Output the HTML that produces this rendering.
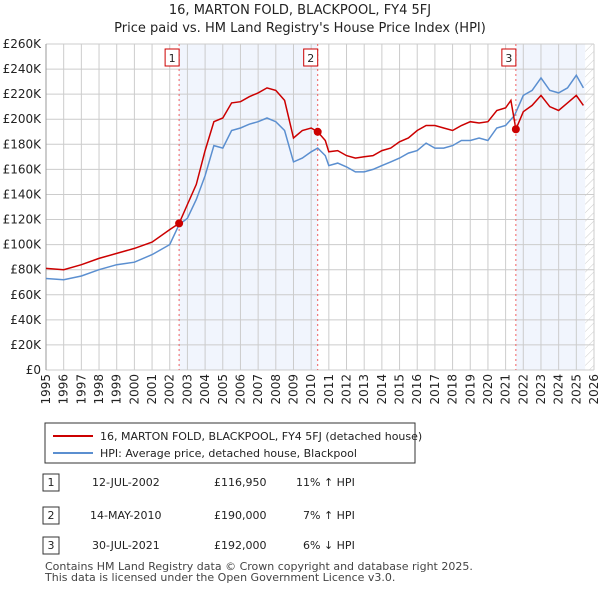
<!DOCTYPE html>
<html><head><meta charset="utf-8"><style>
body{margin:0;background:#fff;font-family:"Liberation Sans","DejaVu Sans",sans-serif;}
svg text{font-family:"DejaVu Sans","Liberation Sans",sans-serif;}
</style></head><body>
<svg id="c" width="600" height="590" xmlns="http://www.w3.org/2000/svg">
<defs><pattern id="h" width="6" height="6" patternUnits="userSpaceOnUse" patternTransform="rotate(45)"><line x1="0" y1="0" x2="0" y2="6" stroke="#ccc" stroke-width="1"/></pattern></defs>
<text x="300" y="14" text-anchor="middle" font-size="13" fill="#222">16, MARTON FOLD, BLACKPOOL, FY4 5FJ</text>
<text x="300" y="32" text-anchor="middle" font-size="13" fill="#222">Price paid vs. HM Land Registry's House Price Index (HPI)</text>
<g id="plot"></g>
<g>
<rect x="45" y="423" width="370" height="40" fill="#fff" stroke="#333" stroke-width="1"/>
<line x1="53" y1="436" x2="93" y2="436" stroke="#cc0000" stroke-width="2"/>
<text x="100" y="440" font-size="11" fill="#222">16, MARTON FOLD, BLACKPOOL, FY4 5FJ (detached house)</text>
<line x1="53" y1="453" x2="93" y2="453" stroke="#5b8fd0" stroke-width="2"/>
<text x="100" y="457" font-size="11" fill="#222">HPI: Average price, detached house, Blackpool</text>
</g>
<g font-size="11" fill="#222">
<rect x="43" y="474" width="16" height="17" fill="#fff" stroke="#333"/><text x="51" y="486" text-anchor="middle">1</text>
<text x="92" y="486">12-JUL-2002</text><text x="214" y="486">£116,950</text><text x="296" y="486">11% ↑ HPI</text>
<rect x="43" y="507" width="16" height="17" fill="#fff" stroke="#333"/><text x="51" y="519" text-anchor="middle">2</text>
<text x="90" y="519">14-MAY-2010</text><text x="214" y="519">£190,000</text><text x="303" y="519">7% ↑ HPI</text>
<rect x="43" y="537" width="16" height="17" fill="#fff" stroke="#333"/><text x="51" y="549" text-anchor="middle">3</text>
<text x="92" y="549">30-JUL-2021</text><text x="214" y="549">£192,000</text><text x="303" y="549">6% ↓ HPI</text>
</g>
<text x="45" y="570" font-size="11" fill="#444">Contains HM Land Registry data © Crown copyright and database right 2025.</text>
<text x="45" y="581" font-size="11" fill="#444">This data is licensed under the Open Government Licence v3.0.</text>
</svg>
<script>
const hpiYears=[1995,1996,1997,1998,1999,2000,2001,2002,2002.53,2003,2003.5,2004,2004.5,2005,2005.5,2006,2006.5,2007,2007.5,2008,2008.5,2009,2009.5,2010,2010.37,2010.8,2011,2011.5,2012,2012.5,2013,2013.5,2014,2014.5,2015,2015.5,2016,2016.5,2017,2017.5,2018,2018.5,2019,2019.5,2020,2020.5,2021,2021.5,2022,2022.5,2023,2023.5,2024,2024.5,2025,2025.4];
const hpiValues=[73,72,75,80,84,86,92,100,116,121,136,155,179,177,191,193,196,198,201,198,191,166,169,174,177,171,163,165,162,158,158,160,163,166,169,173,175,181,177,177,179,183,183,185,183,193,195,203,219,223,233,223,221,225,235,225];
const priceYears=[1995,1996,1997,1998,1999,2000,2001,2002,2002.53,2003,2003.5,2004,2004.5,2005,2005.5,2006,2006.5,2007,2007.5,2008,2008.5,2009,2009.5,2010,2010.37,2010.8,2011,2011.5,2012,2012.5,2013,2013.5,2014,2014.5,2015,2015.5,2016,2016.5,2017,2017.5,2018,2018.5,2019,2019.5,2020,2020.5,2021,2021.3,2021.58,2022,2022.5,2023,2023.5,2024,2024.5,2025,2025.4];
const priceValues=[81,80,84,89,93,97,102,112,116.95,132,148,175,198,201,213,214,218,221,225,223,215,185,191,193,190,183,174,175,171,169,170,171,175,177,182,185,191,195,195,193,191,195,198,197,198,207,209,215,192,206,211,219,210,207,213,219,211];
const saleYears=[2002.53,2010.37,2021.58];
const saleValues=[116.95,190,192];
const saleLabels=["1","2","3"];
const yTicks=[0,20,40,60,80,100,120,140,160,180,200,220,240,260];
const xTicks=[1995,1996,1997,1998,1999,2000,2001,2002,2003,2004,2005,2006,2007,2008,2009,2010,2011,2012,2013,2014,2015,2016,2017,2018,2019,2020,2021,2022,2023,2024,2025,2026];
const X0=46,X1=594,Y0=370,Y1=44;
const x=v=>X0+(v-1995)/31*(X1-X0);
const y=v=>Y0-v/260*(Y0-Y1);
const NS="http://www.w3.org/2000/svg";
const g=document.getElementById('plot');
function mk(t,a){const e=document.createElementNS(NS,t);for(const k in a)e.setAttribute(k,a[k]);g.appendChild(e);return e;}
let e;
e=mk('rect',{x:x(saleYears[0]),y:Y1,width:x(saleYears[1])-x(saleYears[0]),height:Y0-Y1,fill:'#eef3fc',opacity:0.8});


e=mk('rect',{x:x(saleYears[2]),y:Y1,width:x(2025.5)-x(saleYears[2]),height:Y0-Y1,fill:'#eef3fc',opacity:0.8});


e=mk('rect',{x:x(2025.5),y:Y1,width:X1-x(2025.5),height:Y0-Y1,fill:'url(#h)'});


yTicks.forEach(t=>{
 e=mk('line',{x1:X0,x2:X1,y1:y(t),y2:y(t),stroke:'#ccc','stroke-width':1});
 
 
 e=mk('text',{x:X0-5,y:y(t)+4,'text-anchor':'end','font-size':12,fill:'#222'});e.textContent='£'+t+'K';if(t===0)e.textContent='£0';
 
 
});
xTicks.forEach(t=>{
 e=mk('line',{x1:x(t),x2:x(t),y1:Y1,y2:Y0,stroke:'#ccc','stroke-width':1});
 
 
 const tx=x(t)+4,ty=374;
 e=mk('text',{x:tx,y:ty,'text-anchor':'end','font-size':12,fill:'#222',transform:`rotate(-90 ${tx} ${ty})`});e.textContent=t;
 
 
});
e=mk('line',{x1:X0,x2:X0,y1:Y1,y2:Y0,stroke:'#999'});


function path(xs,vs){return xs.map((v,i)=>(i?'L':'M')+x(v).toFixed(1)+','+y(vs[i]).toFixed(1)).join('');}
e=mk('path',{d:path(hpiYears,hpiValues),fill:'none',stroke:'#5b8fd0','stroke-width':1.5});


e=mk('path',{d:path(priceYears,priceValues),fill:'none',stroke:'#cc0000','stroke-width':1.5});


saleYears.forEach((s,i)=>{
 e=mk('line',{x1:x(s),x2:x(s),y1:Y1,y2:Y0,stroke:'#f06060','stroke-dasharray':'2,3'});
 
 
 e=mk('rect',{x:x(s)-14,y:49,width:14,height:17,fill:'#fff',stroke:'#cc0000'});
 
 
 e=mk('text',{x:x(s)-7,y:62,'text-anchor':'middle','font-size':11,fill:'#222'});e.textContent=saleLabels[i];
 
 
 e=mk('circle',{cx:x(s),cy:y(saleValues[i]),r:4,fill:'#cc0000'});
 
 
});
</script>
</body></html>
